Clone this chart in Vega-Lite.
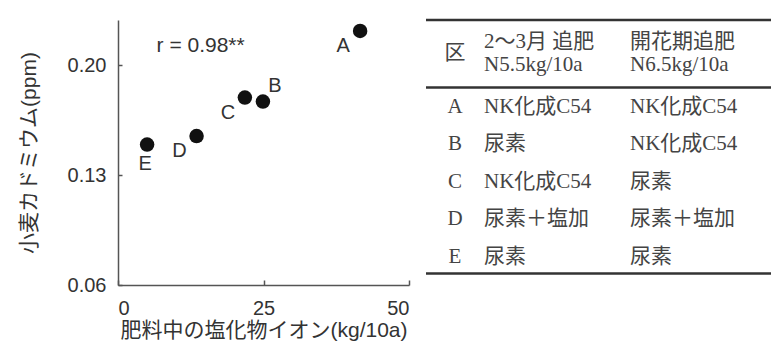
{
  "$schema": "https://vega.github.io/schema/vega-lite/v6.json",
  "background": "white",
  "padding": {"left": 18, "top": 18, "right": 3, "bottom": 5},
  "spacing": 14,
  "config": {
    "view": {"stroke": null},
    "font": "Liberation Sans, Noto Sans CJK JP",
    "axis": {
      "domainColor": "#555",
      "domainWidth": 1.5,
      "tickColor": "#555",
      "tickWidth": 1.5,
      "labelColor": "#333",
      "labelFontSize": 20,
      "titleColor": "#333",
      "titleFontSize": 21,
      "titleFontWeight": "normal",
      "grid": false
    }
  },
  "hconcat": [
    {
      "width": 291,
      "height": 265,
      "data": {
        "values": [
          {"plot": "A", "chloride": 41.6, "cd": 0.222},
          {"plot": "B", "chloride": 24.9, "cd": 0.177},
          {"plot": "C", "chloride": 21.8, "cd": 0.1795},
          {"plot": "D", "chloride": 13.5, "cd": 0.155},
          {"plot": "E", "chloride": 5.0, "cd": 0.1496}
        ]
      },
      "encoding": {
        "x": {
          "field": "chloride",
          "type": "quantitative",
          "scale": {"domain": [0, 50], "nice": false, "zero": false},
          "axis": {"values": [0, 25, 50], "tickSize": -5, "labelPadding": 18, "titlePadding": 1},
          "title": "肥料中の塩化物イオン(kg/10a)"
        },
        "y": {
          "field": "cd",
          "type": "quantitative",
          "scale": {"domain": [0.06, 0.229], "nice": false, "zero": false},
          "axis": {"values": [0.06, 0.13, 0.2], "format": ".2f", "tickSize": -4, "labelPadding": 16, "titlePadding": 28},
          "title": "小麦カドミウム(ppm)"
        }
      },
      "layer": [
        {"mark": {"type": "circle", "size": 210, "color": "#111", "opacity": 1}},
        {
          "transform": [{"filter": "indexof(['A','C','D'], datum.plot) >= 0"}],
          "mark": {"type": "text", "fontSize": 20, "color": "#333", "dx": -17, "dy": 15},
          "encoding": {"text": {"field": "plot"}}
        },
        {
          "transform": [{"filter": "datum.plot == 'B'"}],
          "mark": {"type": "text", "fontSize": 20, "color": "#333", "dx": 12, "dy": -16},
          "encoding": {"text": {"field": "plot"}}
        },
        {
          "transform": [{"filter": "datum.plot == 'E'"}],
          "mark": {"type": "text", "fontSize": 20, "color": "#333", "dx": -2, "dy": 19},
          "encoding": {"text": {"field": "plot"}}
        },
        {
          "data": {"values": [{"label": "r = 0.98**", "x": 14.2, "y": 0.2125}]},
          "mark": {"type": "text", "fontSize": 21, "color": "#333"},
          "encoding": {
            "x": {"field": "x", "type": "quantitative"},
            "y": {"field": "y", "type": "quantitative"},
            "text": {"field": "label"}
          }
        }
      ]
    },
    {
      "width": 345,
      "height": 265,
      "layer": [
        {
          "data": {"values": [{"line": "top", "pos": -1.32}, {"line": "header", "pos": 0.48}, {"line": "bottom", "pos": 5.44}]},
          "mark": {"type": "rule", "strokeWidth": 2.5, "color": "#333"},
          "encoding": {
            "y": {
              "field": "pos",
              "type": "quantitative",
              "scale": {"domain": [-1.32, 5.75], "reverse": true, "nice": false, "zero": false},
              "axis": null
            }
          }
        },
        {
          "data": {
            "values": [
              {"row": -0.43, "c1": "区", "c2": "2〜3月 追肥\nN5.5kg/10a", "c3": "開花期追肥\nN6.5kg/10a"},
              {"row": 1, "c1": "A", "c2": "NK化成C54", "c3": "NK化成C54"},
              {"row": 2, "c1": "B", "c2": "尿素", "c3": "NK化成C54"},
              {"row": 3, "c1": "C", "c2": "NK化成C54", "c3": "尿素"},
              {"row": 4, "c1": "D", "c2": "尿素＋塩加", "c3": "尿素＋塩加"},
              {"row": 5, "c1": "E", "c2": "尿素", "c3": "尿素"}
            ]
          },
          "encoding": {
            "y": {
              "field": "row",
              "type": "quantitative",
              "scale": {"domain": [-1.32, 5.75], "reverse": true, "nice": false, "zero": false},
              "axis": null
            }
          },
          "layer": [
            {
              "mark": {"type": "text", "align": "center", "baseline": "middle", "dx": -29, "font": "Liberation Serif, Noto Sans CJK JP", "fontSize": 21, "color": "#444"},
              "encoding": {
                "x": {"datum": 2, "type": "quantitative", "scale": {"domain": [1.603, 3.966], "nice": false, "zero": false}, "axis": null},
                "text": {"field": "c1"}
              }
            },
            {
              "transform": [{"filter": "datum.row > 0"}],
              "mark": {"type": "text", "align": "left", "baseline": "middle", "font": "Liberation Serif, Noto Sans CJK JP", "fontSize": 21, "color": "#444"},
              "encoding": {
                "x": {"datum": 2, "type": "quantitative", "scale": {"domain": [1.603, 3.966], "nice": false, "zero": false}, "axis": null},
                "text": {"field": "c2"}
              }
            },
            {
              "transform": [{"filter": "datum.row > 0"}],
              "mark": {"type": "text", "align": "left", "baseline": "middle", "font": "Liberation Serif, Noto Sans CJK JP", "fontSize": 21, "color": "#444"},
              "encoding": {
                "x": {"datum": 3, "type": "quantitative", "scale": {"domain": [1.603, 3.966], "nice": false, "zero": false}, "axis": null},
                "text": {"field": "c3"}
              }
            },
            {
              "transform": [{"filter": "datum.row < 0"}],
              "mark": {"type": "text", "align": "left", "baseline": "middle", "lineBreak": "\n", "lineHeight": 23, "dy": -11, "font": "Liberation Serif, Noto Sans CJK JP", "fontSize": 21, "color": "#444"},
              "encoding": {
                "x": {"datum": 2, "type": "quantitative", "scale": {"domain": [1.603, 3.966], "nice": false, "zero": false}, "axis": null},
                "text": {"field": "c2"}
              }
            },
            {
              "transform": [{"filter": "datum.row < 0"}],
              "mark": {"type": "text", "align": "left", "baseline": "middle", "lineBreak": "\n", "lineHeight": 23, "dy": -11, "font": "Liberation Serif, Noto Sans CJK JP", "fontSize": 21, "color": "#444"},
              "encoding": {
                "x": {"datum": 3, "type": "quantitative", "scale": {"domain": [1.603, 3.966], "nice": false, "zero": false}, "axis": null},
                "text": {"field": "c3"}
              }
            }
          ]
        }
      ]
    }
  ]
}
